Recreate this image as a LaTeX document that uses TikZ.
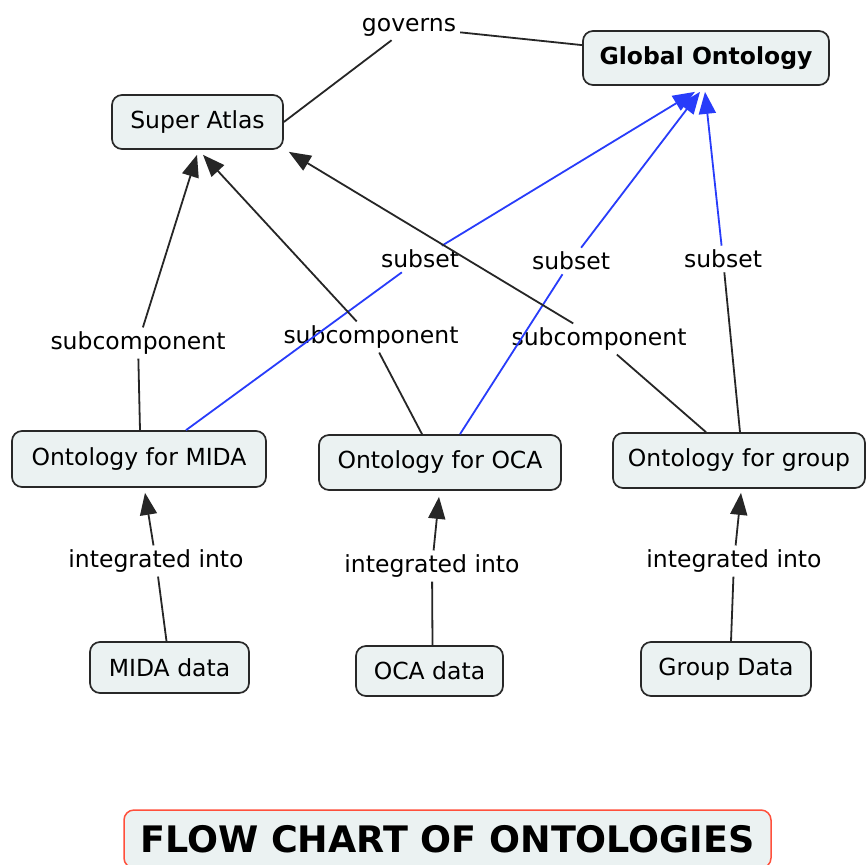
\documentclass[tikz,border=0pt]{standalone}
\usepackage{fontspec}
\setmainfont{DejaVu Sans}
\usetikzlibrary{arrows.meta}
\definecolor{boxfill}{RGB}{235,242,242}
\definecolor{boxline}{RGB}{40,40,40}
\definecolor{subblue}{RGB}{40,60,250}
\definecolor{titlered}{RGB}{255,80,60}
\begin{document}
\begin{tikzpicture}[x=1pt,y=-1pt,
  concept/.style={draw=boxline, line width=1.7pt, fill=boxfill, rounded corners=10pt,
    font=\fontsize{23.5}{28}\selectfont, inner sep=0pt},
  phrase/.style={font=\fontsize{23.5}{28}\selectfont, inner sep=4pt},
  link/.style={line width=1.8pt, draw=black!85},
  bl/.style={line width=1.8pt, draw=subblue},
  tip/.style={-{Triangle[length=22pt,width=17pt]}},
]
\useasboundingbox (0,0) rectangle (866,864);
\fill[white] (0,0) rectangle (866,864);

% concepts
\node[concept, minimum width=246pt, minimum height=54pt] (ga) at (706,58) {\bfseries Global Ontology};
\node[concept, minimum width=171pt, minimum height=54pt] (sa) at (197.5,122) {Super Atlas};
\node[concept, minimum width=254pt, minimum height=56pt] (om) at (139,459) {Ontology for MIDA};
\node[concept, minimum width=242pt, minimum height=55pt] (oo) at (440,462.5) {Ontology for OCA};
\node[concept, minimum width=252pt, minimum height=55pt] (og) at (739,460.5) {Ontology for group};
\node[concept, minimum width=159pt, minimum height=51pt] (md) at (169.5,667.5) {MIDA data};
\node[concept, minimum width=147pt, minimum height=50pt] (od) at (429.5,671) {OCA data};
\node[concept, minimum width=170pt, minimum height=54pt] (gd) at (726,669) {Group Data};
\node[draw=titlered, line width=1.5pt, fill=boxfill, rounded corners=10pt,
  minimum width=647pt, minimum height=58pt, inner sep=0pt,
  font=\fontsize{36.5}{40}\selectfont\bfseries] (title) at (447.5,839) {FLOW CHART OF ONTOLOGIES};

% linking phrases
\node[phrase] (gov) at (409,27) {governs};
\node[phrase] (s1) at (420,259) {subset};
\node[phrase] (s2) at (571,261) {subset};
\node[phrase] (s3) at (723,259) {subset};
\node[phrase] (c1) at (138,343) {subcomponent};
\node[phrase] (c2) at (371,337) {subcomponent};
\node[phrase] (c3) at (599,339) {subcomponent};
\node[phrase] (i1) at (156,561) {integrated into};
\node[phrase] (i2) at (432,566) {integrated into};
\node[phrase] (i3) at (734,561) {integrated into};

% governs
\draw[link] (sa.east) -- (gov);
\draw[link] (gov) -- (ga);

% subset
\draw[bl] ([xshift=47pt]om.north) -- (s1);
\draw[bl,tip] (s1) -- ([xshift=-11pt,yshift=-6pt]ga.south);
\draw[bl] ([xshift=20pt]oo.north) -- (s2);
\draw[bl,tip] (s2) -- ([xshift=-6pt,yshift=-6pt]ga.south);
\draw[link] ([xshift=1pt]og.north) -- (s3);
\draw[bl,tip] (s3) -- ([xshift=-1pt,yshift=-6pt]ga.south);

% subcomponent
\draw[link] ([xshift=1pt]om.north) -- (c1);
\draw[link,tip] (c1) -- ([xshift=-0.5pt,yshift=-5pt]sa.south);
\draw[link] ([xshift=-18pt]oo.north) -- (c2);
\draw[link,tip] (c2) -- ([xshift=5.5pt,yshift=-5pt]sa.south);
\draw[link] ([xshift=-33pt]og.north) -- (c3);
\draw[link,tip] (c3) -- ([xshift=5pt,yshift=-2pt]sa.south east);

% integrated into
\draw[link] ([xshift=-3pt]md.north) -- (i1);
\draw[link,tip] (i1) -- ([xshift=6pt,yshift=-5pt]om.south);
\draw[link] ([xshift=3pt]od.north) -- (i2);
\draw[link,tip] (i2) -- ([xshift=-1pt,yshift=-6pt]oo.south);
\draw[link] ([xshift=5pt]gd.north) -- (i3);
\draw[link,tip] (i3) -- ([xshift=2pt,yshift=-4pt]og.south);
\end{tikzpicture}
\end{document}
